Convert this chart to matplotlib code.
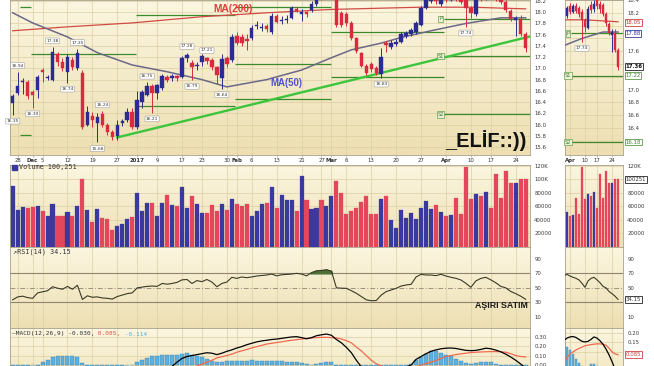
import numpy as np
import matplotlib.pyplot as plt
from matplotlib.colors import LinearSegmentedColormap
from matplotlib.transforms import blended_transform_factory

# trading-day index: 0 = 25 Nov 2016 ... 103 = 26 Apr 2017
opens = [16.39, 16.57, 16.75, 16.75, 16.58, 16.62, 16.97, 16.82, 16.80, 17.25,
         17.12, 16.94, 17.15, 17.01, 16.92, 16.00, 16.15, 16.02, 16.18, 15.99,
         15.87, 15.80, 16.02, 16.08, 16.22, 15.96, 16.40, 16.53, 16.68, 16.57,
         16.65, 16.85, 16.82, 16.86, 16.85, 17.18, 17.10, 17.04, 17.12, 17.18,
         17.15, 17.02, 16.83, 17.18, 17.15, 17.58, 17.56, 17.52, 17.54, 17.75,
         17.72, 17.76, 17.65, 17.93, 17.84, 17.86, 17.90, 18.06, 17.96, 18.00,
         18.04, 18.15, 18.34, 18.28, 18.36, 18.48, 17.98, 17.96, 17.81, 17.54,
         17.28, 17.05, 17.08, 17.01, 16.90, 17.46, 17.38, 17.44, 17.47, 17.58,
         17.62, 17.64, 17.78, 18.08, 18.20, 18.28, 18.15, 18.30, 18.22, 18.31,
         18.27, 18.22, 18.08, 17.96, 18.32, 18.26, 18.40, 18.34, 18.32, 18.18,
         18.03, 17.86, 17.88, 17.62]
highs = [16.55, 16.94, 16.82, 16.80, 16.62, 16.88, 17.00, 16.88, 17.38, 17.30,
         17.18, 17.25, 17.20, 17.35, 16.98, 16.33, 16.22, 16.20, 16.24, 16.03,
         15.90, 16.08, 16.10, 16.30, 16.30, 16.60, 16.62, 16.75, 16.72, 16.73,
         16.90, 16.88, 16.90, 16.89, 17.22, 17.28, 17.15, 17.12, 17.25, 17.21,
         17.18, 17.05, 17.25, 17.22, 17.62, 17.64, 17.62, 17.62, 17.78, 17.85,
         17.80, 17.79, 17.98, 17.96, 17.94, 17.95, 18.12, 18.10, 18.06, 18.03,
         18.20, 18.34, 18.38, 18.42, 18.52, 18.52, 18.02, 18.00, 17.85, 17.56,
         17.30, 17.08, 17.12, 17.04, 17.37, 17.48, 17.50, 17.52, 17.64, 17.66,
         17.72, 17.84, 18.12, 18.26, 18.30, 18.32, 18.30, 18.36, 18.34, 18.35,
         18.30, 18.26, 18.12, 18.30, 18.38, 18.40, 18.45, 18.38, 18.36, 18.22,
         18.06, 17.94, 17.95, 17.65]
lows = [16.17, 16.52, 16.55, 16.45, 16.30, 16.48, 16.75, 16.80, 16.78, 17.05,
        16.95, 16.74, 16.98, 16.98, 15.92, 15.98, 15.96, 15.68, 15.95, 15.82,
        15.72, 15.72, 15.98, 16.05, 15.92, 15.92, 16.30, 16.50, 16.21, 16.45,
        16.62, 16.76, 16.78, 16.78, 16.82, 17.12, 16.79, 16.98, 17.05, 17.08,
        16.98, 16.72, 16.64, 17.02, 17.12, 17.42, 17.40, 17.32, 17.50, 17.70,
        17.66, 17.64, 17.62, 17.80, 17.79, 17.80, 17.88, 18.00, 17.84, 17.92,
        18.00, 18.12, 18.22, 18.25, 18.32, 17.74, 17.74, 17.76, 17.50, 17.28,
        17.02, 16.88, 16.94, 16.88, 16.83, 17.30, 17.34, 17.40, 17.45, 17.55,
        17.58, 17.62, 17.76, 18.05, 18.16, 18.15, 18.12, 18.18, 18.20, 18.20,
        18.14, 17.74, 17.90, 17.94, 18.20, 18.22, 18.26, 18.20, 18.15, 18.00,
        17.85, 17.58, 17.58, 17.30]
closes = [16.50, 16.69, 16.78, 16.50, 16.53, 16.85, 16.94, 16.85, 17.30, 17.12,
          17.01, 17.20, 17.03, 17.28, 15.96, 16.23, 16.08, 16.14, 16.00, 15.87,
          15.77, 16.00, 16.06, 16.22, 15.96, 16.44, 16.58, 16.68, 16.57, 16.71,
          16.87, 16.80, 16.86, 16.82, 17.19, 17.24, 17.03, 17.06, 17.22, 17.13,
          17.02, 16.88, 17.17, 17.08, 17.56, 17.45, 17.45, 17.48, 17.72, 17.78,
          17.74, 17.70, 17.93, 17.83, 17.87, 17.88, 18.08, 18.03, 18.01, 17.97,
          18.15, 18.30, 18.27, 18.38, 18.48, 17.77, 17.78, 17.80, 17.54, 17.31,
          17.05, 16.92, 16.99, 16.92, 17.20, 17.41, 17.45, 17.47, 17.62, 17.63,
          17.68, 17.80, 18.08, 18.22, 18.26, 18.20, 18.27, 18.22, 18.30, 18.23,
          18.18, 18.08, 17.98, 18.26, 18.24, 18.34, 18.30, 18.26, 18.18, 18.04,
          17.88, 17.90, 17.62, 17.36]
# b = up day (blue), r = down day (red)
day_dir = list("bbbrr" "brbbr" "rbrbr" "brbrr" "rbbbr" "bbbrb" "brbrb"
               "brbbr" "rrbrb" "rrrbb" "brbrb" "bbrbr" "bbrbb" "rrrrr"
               "rrrrb" "rbbbb" "bbbbb" "rbrbr" "rrrbr" "brrrr" "rbrr")
volume_k = [90, 55, 59, 58, 59, 61, 52.5, 45, 63, 45,
            45, 52, 45, 61, 101, 55, 37, 56.5, 42.5, 41.5,
            25, 30, 33, 40.5, 43.5, 80, 52.5, 65.5, 65, 45,
            65.5, 77.5, 62.5, 60, 88, 57, 76, 63, 50.5, 50.5,
            62.5, 52.5, 63, 55, 70.5, 64, 60, 64, 46, 52.5,
            64, 65, 88, 58, 77, 69, 69, 53, 105, 70,
            56.5, 57.5, 69, 61, 76, 98, 80, 49, 53, 57,
            66, 75, 49, 48, 71, 76, 39, 28, 55, 42,
            50, 41, 58, 68, 56, 62, 52, 45, 47, 72,
            49, 118, 71, 79, 75, 81, 58, 108, 72, 112,
            95, 94, 100, 100.251]
rsi14 = [33.5, 37.5, 38.5, 36.5, 35.5, 43, 44.5, 46, 51.5, 49.5,
         48, 52, 48, 53.5, 34, 39, 37, 37.5, 36, 35.5,
         34.5, 38, 40, 42, 43, 50, 51, 52, 52.5, 52,
         56, 55, 56, 57.5, 61, 61.5, 56, 60, 58.5, 61.5,
         58, 51.5, 56, 58, 64.5, 63, 65, 64, 65, 66.3,
         67, 67.7, 69, 66.5, 68, 68.5, 69, 70, 69, 66.5,
         71, 73.5, 74, 75, 73, 50, 49.5, 49.3, 46, 42.5,
         38, 33.5, 32.2, 32.5, 40, 44.8, 47, 49.3, 52.5, 53.9,
         54.8, 65, 68.6, 67.7, 67.7, 66.8, 68.6, 66.3, 64.5, 63.1,
         60.8, 56.2, 50.7, 59.5, 63, 64.5, 61, 57, 52, 50,
         45, 42, 38.5, 34.15]
macd_line = [-0.24, -0.23, -0.22, -0.22, -0.21, -0.19, -0.17, -0.14, -0.10, -0.08,
             -0.07, -0.05, -0.04, -0.03, -0.08, -0.11, -0.13, -0.15, -0.16, -0.17,
             -0.18, -0.18, -0.17, -0.16, -0.15, -0.12, -0.10, -0.08, -0.06, -0.05,
             -0.04, -0.03, -0.015, 0.03, 0.07, 0.09, 0.10, 0.11, 0.12, 0.13,
             0.125, 0.11, 0.125, 0.145, 0.16, 0.18, 0.195, 0.215, 0.23, 0.245,
             0.255, 0.262, 0.27, 0.275, 0.282, 0.29, 0.297, 0.30, 0.29, 0.278,
             0.29, 0.31, 0.32, 0.328, 0.315, 0.27, 0.235, 0.187, 0.13, 0.05,
             -0.02, -0.07, -0.10, -0.12, -0.11, -0.10, -0.08, -0.06, -0.04, -0.02,
             0.0, 0.06, 0.09, 0.12, 0.145, 0.16, 0.172, 0.178, 0.18, 0.175,
             0.165, 0.155, 0.152, 0.155, 0.165, 0.178, 0.172, 0.158, 0.14, 0.115,
             0.085, 0.05, 0.01, -0.03]
macd_signal = [-0.20, -0.21, -0.21, -0.21, -0.21, -0.21, -0.21, -0.20, -0.19, -0.17,
               -0.16, -0.14, -0.13, -0.11, -0.10, -0.10, -0.11, -0.12, -0.13, -0.14,
               -0.15, -0.16, -0.17, -0.17, -0.17, -0.16, -0.15, -0.14, -0.13, -0.12,
               -0.11, -0.10, -0.09, -0.08, -0.06, -0.045, -0.03, -0.012, 0.01, 0.03,
               0.05, 0.075, 0.088, 0.10, 0.115, 0.135, 0.150, 0.165, 0.18, 0.195,
               0.208, 0.222, 0.23, 0.238, 0.245, 0.255, 0.262, 0.268, 0.275, 0.281,
               0.286, 0.29, 0.293, 0.293, 0.29, 0.286, 0.275, 0.258, 0.235, 0.19,
               0.15, 0.10, 0.05, 0.013, -0.01, -0.03, -0.04, -0.045, -0.045, -0.04,
               -0.03, -0.02, 0.0, 0.015, 0.03, 0.047, 0.07, 0.09, 0.10, 0.11,
               0.118, 0.125, 0.132, 0.135, 0.138, 0.14, 0.142, 0.142, 0.14, 0.135,
               0.12, 0.10, 0.09, 0.085]
macd_hist = [-0.04, -0.02, -0.01, -0.01, -0.005, -0.01, 0.035, 0.05, 0.087, 0.09,
             0.09, 0.09, 0.09, 0.087, 0.023, -0.01, -0.02, -0.03, -0.03, -0.03,
             -0.03, -0.02, -0.01, -0.005, -0.002, 0.035, 0.058, 0.076, 0.09, 0.10,
             0.11, 0.11, 0.11, 0.11, 0.118, 0.125, 0.11, 0.10, 0.087, 0.065,
             0.04, 0.03, 0.03, 0.037, 0.045, 0.045, 0.045, 0.045, 0.05, 0.045,
             0.042, 0.04, 0.04, 0.04, 0.037, 0.035, 0.03, 0.027, 0.02, 0.01,
             0.0, 0.01, 0.025, 0.03, 0.03, -0.01, -0.05, -0.08, -0.12, -0.16,
             -0.20, -0.22, -0.21, -0.19, -0.15, -0.12, -0.09, -0.06, -0.04, -0.02,
             0.01, 0.05, 0.087, 0.118, 0.15, 0.145, 0.125, 0.11, 0.09, 0.065,
             0.04, 0.025, 0.01, 0.018, 0.035, 0.035, 0.027, 0.01, -0.01, -0.03,
             -0.05, -0.08, -0.10, -0.114]

ma200_x = [0, 11, 24, 38, 51, 64, 82, 92, 103]
ma200_y = [17.67, 17.74, 17.81, 17.92, 17.99, 18.05, 18.09, 18.09, 18.06]
ma50_x = [0, 4, 11, 17, 24, 31, 38, 43, 51, 58, 64, 68, 74, 78, 84, 91, 98, 103]
ma50_y = [17.99, 17.81, 17.56, 17.28, 17.06, 16.94, 16.80, 16.67, 16.80, 16.97,
          17.19, 17.33, 17.45, 17.55, 17.67, 17.80, 17.90, 17.90]
trend_x = [21, 104]
trend_y = [15.77, 17.57]

# monthly pivot lines (start, end, levels)
pivot_start = [1.5, 3.7, 24.7, 44.7, 63.9, 86.7]
pivot_end = [3.7, 24.7, 44.7, 63.9, 86.7, 105.0]
pivot_levels = [[18.10, 15.82], [17.25], [17.95, 16.33], [18.10, 17.08, 16.46],
                [17.65, 16.84], [17.88, 17.22, 16.18]]
apr_pivot_names = ['P', 'S1', 'S2']

swing_labels = [(0, '16.35', 'low'), (1, '16.94', 'high'), (4, '16.30', 'low'),
                (8, '17.38', 'high'), (11, '16.74', 'low'), (13, '17.35', 'high'),
                (17, '15.68', 'low'), (18, '16.24', 'high'), (27, '16.75', 'high'),
                (28, '16.21', 'low'), (35, '17.28', 'high'), (36, '16.79', 'low'),
                (39, '17.21', 'high'), (42, '16.64', 'low'), (74, '16.83', 'low'),
                (91, '17.74', 'low')]

date_ticks = [1, 4, 6, 11, 16, 21, 25, 29, 34, 38, 43, 45, 48, 53, 58, 62, 64,
              67, 72, 77, 82, 87, 92, 96, 101]
date_labels = ['28', 'Dec', '5', '12', '19', '27', '2017', '9', '17', '23', '30',
               'Feb', '6', '13', '21', '27', 'Mar', '6', '13', '20', '27', 'Apr',
               '10', '17', '24']
month_names = ['Dec', '2017', 'Feb', 'Mar', 'Apr']
zoom_ticks = [87, 92, 96, 101]
zoom_labels = ['Apr', '10', '17', '24']

W, H = 654, 366
BLUE, RED = '#2c2c90', '#d92a3e'
VBLUE, VRED = '#3a3a9e', '#e4475b'
GRID = '#dccfa4'
PIVOT = '#3d8a2c'

fig = plt.figure(figsize=(W / 100, H / 100), dpi=100)
fig.patch.set_facecolor('white')
bg = LinearSegmentedColormap.from_list('bg', ['#fbf6e0', '#eddfb2'])
grad = np.linspace(0, 1, 60).reshape(-1, 1)


def axes_px(x0, y0, x1, y1):
    return fig.add_axes([x0 / W, 1 - y1 / H, (x1 - x0) / W, (y1 - y0) / H])


def setup(ax, xlim, ylim, yticks, ylabels, vticks, hlines=True):
    ax.imshow(grad, cmap=bg, aspect='auto', extent=(0, 1, 0, 1),
              transform=ax.transAxes, zorder=0)
    ax.set_xlim(*xlim)
    ax.set_ylim(*ylim)
    ax.set_yticks(yticks)
    ax.set_yticklabels(ylabels)
    ax.yaxis.tick_right()
    ax.tick_params(axis='y', length=0, pad=3, labelsize=3.9, labelcolor='#3a3a3a')
    ax.set_xticks([])
    for v in vticks:
        ax.axvline(v, color=GRID, lw=0.5, zorder=1)
    if hlines:
        for v in yticks:
            ax.axhline(v, color=GRID, lw=0.5, zorder=1)
    for s in ax.spines.values():
        s.set_color('#a8a088')
        s.set_linewidth(0.6)


def value_box(ax, y, s, ec, tc='#333333', bold=False):
    tr = blended_transform_factory(ax.transAxes, ax.transData)
    ax.text(1.04, y, s, transform=tr,
            ha='left', va='center', fontsize=3.9, color=tc,
            fontweight='bold' if bold else 'normal', zorder=10, clip_on=False,
            bbox=dict(boxstyle='square,pad=0.15', fc='white', ec=ec, lw=0.6))


x = np.arange(len(closes))
cols = [BLUE if d == 'b' else RED for d in day_dir]
vcols = [VBLUE if d == 'b' else VRED for d in day_dir]

left_x = (-0.54, 103.87)
right_x = (85.33, 104.67)

# ---------------- price panels ----------------
ax_p = axes_px(10, 0, 530, 155)
ax_pr = axes_px(565, 0, 623, 155)
lt = np.round(np.arange(15.6, 18.21, 0.2), 1)
# right-axis labels that are not hidden behind the value boxes
rt = [16.4, 16.6, 16.8, 17.0, 17.6, 18.2, 18.4]
setup(ax_p, left_x, (15.457, 18.218), lt, [f'{v:.1f}' for v in lt], date_ticks)
setup(ax_pr, right_x, (15.979, 18.386), rt, [f'{v:.1f}' for v in rt], zoom_ticks,
      hlines=False)
for v in np.arange(16.2, 18.41, 0.2):
    ax_pr.axhline(v, color=GRID, lw=0.5, zorder=1)

for ax, w, sel in [(ax_p, 0.7, x), (ax_pr, 0.75, x[86:])]:
    ax.vlines(sel, np.array(lows)[sel], np.array(highs)[sel],
              colors=[cols[i] for i in sel], lw=0.7, zorder=4)
    ax.bar(sel, np.array(closes)[sel] - np.array(opens)[sel],
           bottom=np.array(opens)[sel], width=w,
           color=[cols[i] for i in sel], edgecolor=[cols[i] for i in sel],
           lw=0.3, zorder=5)
    ax.plot(ma200_x, ma200_y, color='#d24a44', lw=0.9, zorder=3)
    ax.plot(ma50_x, ma50_y, color='#6c6888', lw=1.1, zorder=3)

ax_p.plot(trend_x, trend_y, color='#3cc43c', lw=1.7, zorder=3)

for s0, s1, lv in zip(pivot_start, pivot_end, pivot_levels):
    ax_p.hlines(lv, s0, s1, color=PIVOT, lw=0.9, zorder=2)
ax_pr.hlines(pivot_levels[-1], 87.3, 105, color=PIVOT, lw=0.9, zorder=2)

pbox = dict(boxstyle='square,pad=0.15', fc='#eaf2d4', ec='#6aa052', lw=0.5)
for name, lv in zip(apr_pivot_names, pivot_levels[-1]):
    ax_p.text(85.9, lv, name, ha='center', va='center', fontsize=3.6,
              color='#4a7c3a', bbox=pbox, zorder=6)
    ax_pr.text(86.4, lv, name, ha='center', va='center', fontsize=3.6,
               color='#4a7c3a', bbox=pbox, zorder=6)

lbox = dict(boxstyle='round,pad=0.2', fc='white', ec='#a0a0a0', lw=0.4)
for i, s, side in swing_labels:
    targets = [ax_p] + ([ax_pr] if i >= 86 else [])
    for ax in targets:
        if side == 'high':
            ax.annotate(s, (i, highs[i]), xytext=(0, 3), textcoords='offset points',
                        ha='center', va='bottom', fontsize=3.2, color='#333333',
                        bbox=lbox, zorder=7, annotation_clip=False)
        else:
            ax.annotate(s, (i, lows[i]), xytext=(0, -3), textcoords='offset points',
                        ha='center', va='top', fontsize=3.2, color='#333333',
                        bbox=lbox, zorder=7, annotation_clip=False)

for ax, ticks, labels in [(ax_p, date_ticks, date_labels), (ax_pr, zoom_ticks, zoom_labels)]:
    ax.set_xticks(ticks)
    ax.set_xticklabels(labels)
    ax.tick_params(axis='x', bottom=True, labelbottom=True, length=1.5, width=0.4,
                   color='#888888', pad=1, labelsize=3.9, labelcolor='#333333')
    for t in ax.get_xticklabels():
        if t.get_text() in month_names:
            t.set_fontweight('bold')

value_box(ax_pr, 18.05, '18.05', '#d04040', '#c03030')
value_box(ax_pr, 17.88, '17.88', '#3a3aa0', '#3030a0')
value_box(ax_pr, closes[-1], f'{closes[-1]:.2f}', '#222222', '#111111', bold=True)
value_box(ax_pr, 17.22, '17.22', '#5a9a48', '#4a7c3a')
value_box(ax_pr, 16.18, '16.18', '#5a9a48', '#4a7c3a')

# ---------------- volume ----------------
ax_v = axes_px(10, 165, 530, 246.5)
ax_vr = axes_px(565, 165, 623, 246.5)
vt = [20, 40, 60, 80, 100, 120]
vl = ['20000', '40000', '60000', '80000', '100K', '120K']
setup(ax_v, left_x, (0, 121.5), vt, vl, date_ticks)
setup(ax_vr, right_x, (0, 121.5), [20, 40, 60, 80, 120],
      ['20000', '40000', '60000', '80000', '120K'], zoom_ticks)
ax_vr.axhline(100, color=GRID, lw=0.5, zorder=1)
ax_v.bar(x, volume_k, width=0.82, color=vcols, edgecolor=vcols, lw=0.2, zorder=3)
ax_vr.bar(x[86:], volume_k[86:], width=0.88, color=vcols[86:], edgecolor=vcols[86:],
          lw=0.2, zorder=3)
value_box(ax_vr, volume_k[-1], '100251', '#222222')

# ---------------- RSI ----------------
ax_r = axes_px(10, 247, 530, 328)
ax_rr = axes_px(565, 247, 623, 328)
for ax, vt_, sel, rtk in [(ax_r, date_ticks, x, [10, 30, 50, 70, 90]),
                          (ax_rr, zoom_ticks, x[85:], [10, 50, 70, 90])]:
    setup(ax, left_x if ax is ax_r else right_x, (-5.4, 106.3), rtk,
          [str(v) for v in rtk], vt_, hlines=False)
    ax.axhline(70, color='#8e8470', lw=0.8, zorder=2)
    ax.axhline(30, color='#8e8470', lw=0.8, zorder=2)
    ax.axhline(50, color='#9c9482', lw=0.7, ls=(0, (5, 2, 1, 2)), zorder=2)
    rv = np.array(rsi14)[sel]
    ax.fill_between(sel, 70, rv, where=rv > 70, interpolate=True,
                    color='#4e6e38', zorder=3)
    ax.plot(sel, rv, color='#3a3a26', lw=0.8, zorder=4)
value_box(ax_rr, rsi14[-1], f'{rsi14[-1]:.2f}', '#222222')

# ---------------- MACD ----------------
ax_m = axes_px(10, 328, 530, 400)
ax_mr = axes_px(565, 328, 623, 400)
setup(ax_m, left_x, (-0.371, 0.392), [0.0, 0.1, 0.2, 0.3],
      ['0.00', '0.10', '0.20', '0.30'], date_ticks)
setup(ax_mr, right_x, (-0.1505, 0.2245), [0.15, 0.20],
      ['0.15', '0.20'], zoom_ticks)
ax_mr.axhline(0.10, color=GRID, lw=0.5, zorder=1)
for ax, sel, w in [(ax_m, x, 0.8), (ax_mr, x[85:], 0.85)]:
    ax.bar(sel, np.array(macd_hist)[sel], width=w, color='#5fb0dc',
           edgecolor='#3a88bc', lw=0.3, zorder=3)
    ax.plot(sel, np.array(macd_signal)[sel], color='#f06a50', lw=0.9, zorder=4)
    ax.plot(sel, np.array(macd_line)[sel], color='black', lw=0.9, zorder=5)
value_box(ax_mr, macd_signal[-1], '0.085', '#d04040', '#d04040')

# ---------------- overlay texts ----------------
def ftext(xp, yp, s, **kw):
    return fig.text(xp / W, 1 - yp / H, s, **kw)


ftext(213, 8.5, 'MA(200)', color='#dd4038', fontsize=7.4, fontweight='bold',
      family='Liberation Sans', va='center', ha='left')
ftext(270, 83, 'MA(50)', color='#5252c8', fontsize=6.9, fontweight='bold',
      family='Liberation Sans', va='center', ha='left')
ftext(445, 141, '_ELİF::))', color='#111111', fontsize=14.4, fontweight='bold',
      family='Liberation Sans', va='center', ha='left')
ftext(475, 306, 'AŞIRI SATIM', color='#1a1a1a', fontsize=6.3, fontweight='bold',
      family='Liberation Sans', va='center', ha='left')

mono = dict(family='DejaVu Sans Mono', va='center', ha='left')
fig.patches.append(plt.Rectangle((12 / W, 1 - 170 / H), 5 / W, 5 / H,
                                 transform=fig.transFigure, color=VBLUE))
ftext(19, 167.5, 'Volume 100,251', color='#333333', fontsize=4.9, **mono)
ftext(13, 251.5, '\u2197RSI(14) 34.15', color='#333333', fontsize=4.9, **mono)

renderer = fig.canvas.get_renderer()
xpos = 12
for part, c in [('\u2014MACD(12,26,9) -0.030,', '#333333'), (' 0.085,', '#e05040'),
                (' -0.114', '#5aaad4')]:
    t = ftext(xpos, 334, part, color=c, fontsize=4.4, **mono)
    xpos = t.get_window_extent(renderer=renderer).x1 * W / fig.bbox.width

fig.savefig('out.png', dpi=100)
